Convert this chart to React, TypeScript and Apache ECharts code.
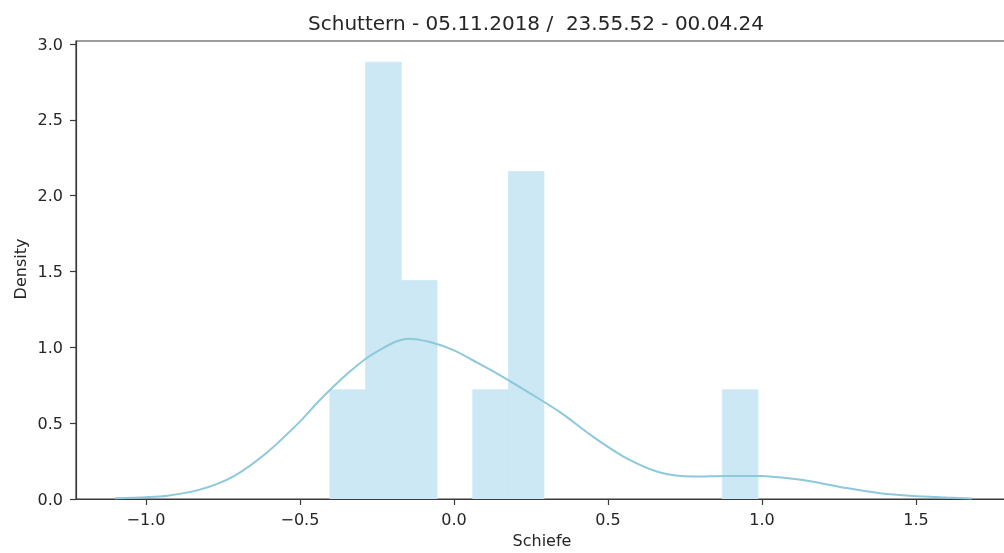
import React, { useEffect, useRef } from "react";
import * as echarts from "echarts";

const titleText = "Schuttern - 05.11.2018 /  23.55.52 - 00.04.24";
const xName = "Schiefe";
const yName = "Density";

const binEdges = [-0.403, -0.287, -0.171, -0.055, 0.061, 0.177, 0.292, 0.408, 0.524, 0.64, 0.756, 0.871, 0.987];
const binHeights = [0.72, 2.88, 1.44, 0, 0.72, 2.16, 0, 0, 0, 0, 0, 0.72];

const kdeX = [-1.1, -1.0, -0.93, -0.825, -0.717, -0.608, -0.5, -0.446, -0.392, -0.338, -0.283, -0.23, -0.186, -0.149, -0.078, 0.0, 0.07, 0.139, 0.247, 0.35, 0.452, 0.561, 0.669, 0.777, 0.885, 0.994, 1.1, 1.166, 1.275, 1.383, 1.49, 1.6, 1.68];
const kdeY = [0.005, 0.012, 0.022, 0.062, 0.148, 0.305, 0.51, 0.63, 0.74, 0.84, 0.93, 0.995, 1.04, 1.057, 1.035, 0.98, 0.905, 0.828, 0.697, 0.565, 0.41, 0.268, 0.175, 0.148, 0.152, 0.152, 0.133, 0.114, 0.072, 0.038, 0.02, 0.01, 0.004];

const xTicks = [-1.0, -0.5, 0.0, 0.5, 1.0, 1.5];
const yTicks = [0.0, 0.5, 1.0, 1.5, 2.0, 2.5, 3.0];

const FONT = "DejaVu Sans";
const TEXT = "#262626";
const AXIS = "#3a3a3a";
const BAR = "#cce8f5";

const fmt = (v: number) => {
  const s = Math.abs(v).toFixed(1);
  return v < -1e-9 ? "\u2212" + s : s;
};

export default function App() {
  const ref = useRef<HTMLDivElement>(null);
  useEffect(() => {
    if (!ref.current) return;
    const chart = echarts.init(ref.current, undefined, { renderer: "svg" });
    const barData = binHeights
      .map((h, i) => [binEdges[i], binEdges[i + 1], h])
      .filter((d) => d[2] > 0);
    chart.setOption({
      animation: false,
      grid: {
        left: 76,
        top: 41,
        bottom: 54,
        right: 6,
        show: true,
        borderColor: AXIS,
        borderWidth: 1.2,
        backgroundColor: "transparent",
      },
      xAxis: {
        type: "value",
        min: -1.227,
        max: 1.818,
        axisLine: { show: true, onZero: false, lineStyle: { color: AXIS, width: 1.2 } },
        splitLine: { show: false },
        axisTick: { show: true, length: 6, lineStyle: { color: AXIS, width: 1.2 }, customValues: xTicks },
        axisLabel: {
          customValues: xTicks,
          formatter: (v: number) => fmt(v),
          margin: 12,
          fontSize: 16,
          fontFamily: FONT,
          color: TEXT,
        },
      },
      yAxis: {
        type: "value",
        min: 0,
        max: 3.02,
        axisLine: { show: true, onZero: false, lineStyle: { color: AXIS, width: 1.2 } },
        splitLine: { show: false },
        axisTick: { show: true, length: 6, lineStyle: { color: AXIS, width: 1.2 }, customValues: yTicks },
        axisLabel: {
          customValues: yTicks,
          formatter: (v: number) => fmt(v),
          margin: 13,
          fontSize: 16,
          fontFamily: FONT,
          color: TEXT,
        },
      },
      graphic: [
        {
          type: "text",
          x: 536,
          y: 23,
          style: { text: titleText, font: `20px "${FONT}"`, fill: TEXT, textAlign: "center", textVerticalAlign: "middle" },
        },
        {
          type: "text",
          x: 542,
          y: 540,
          style: { text: xName, font: `16px "${FONT}"`, fill: TEXT, textAlign: "center", textVerticalAlign: "middle" },
        },
        {
          type: "text",
          x: 20,
          y: 269,
          rotation: Math.PI / 2,
          style: { text: yName, font: `16px "${FONT}"`, fill: TEXT, textAlign: "center", textVerticalAlign: "middle" },
        },
      ],
      series: [
        {
          type: "custom",
          z: 1,
          clip: true,
          encode: { x: [0, 1], y: 2 },
          data: barData,
          renderItem: (params: any, api: any) => {
            const p0 = api.coord([api.value(0), api.value(2)]);
            const p1 = api.coord([api.value(1), 0]);
            return {
              type: "rect",
              shape: { x: p0[0], y: p0[1], width: p1[0] - p0[0], height: p1[1] - p0[1] },
              style: { fill: BAR, stroke: BAR, lineWidth: 0.8 },
            };
          },
        },
        {
          type: "line",
          z: 3,
          smooth: 0.3,
          symbol: "none",
          lineStyle: { color: "#8ec8db", width: 2 },
          data: kdeX.map((x, i) => [x, kdeY[i]]),
        },
      ],
    });
    return () => chart.dispose();
  }, []);
  return (
    <div style={{ position: "fixed", left: 0, top: 0, width: 1004, height: 553, overflow: "hidden" }}>
      <div ref={ref} style={{ width: 1020, height: 553 }} />
    </div>
  );
}
